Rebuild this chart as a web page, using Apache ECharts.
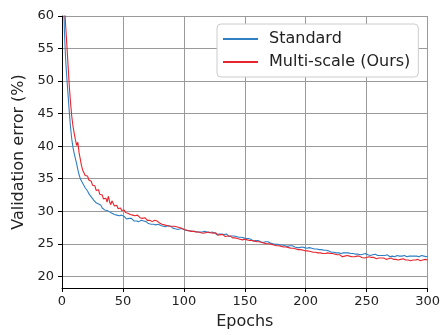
<!DOCTYPE html>
<html>
<head>
<meta charset="utf-8">
<script src="https://cdn.jsdelivr.net/npm/echarts@6/dist/echarts.min.js"></script>
<style>
  html, body { margin: 0; padding: 0; background: #fff; }
  #chart { width: 443px; height: 335px; }
</style>
</head>
<body>
<div id="chart"></div>
<script>
// validation error (%) per epoch, epochs 1..300
const standard = [
  66.0, 57.5, 53.2, 50.4, 47.8, 45.2, 42.9, 41.1, 39.8, 38.9,
  38.1, 37.3, 36.4, 35.6, 35.0, 34.7, 34.3, 34.0, 33.6, 33.3,
  33.1, 32.7, 32.6, 32.2, 32.1, 31.7, 31.8, 31.3, 31.2, 31.1,
  30.8, 30.9, 30.5, 30.6, 30.2, 30.0, 30.1, 29.8, 29.9, 30.0,
  29.7, 29.8, 29.5, 29.6, 29.4, 29.6, 29.3, 29.2, 29.4, 29.1,
  29.2, 29.0, 28.8, 29.0, 28.9, 28.6, 28.9, 28.7, 28.5, 28.8,
  28.5, 28.7, 28.4, 28.5, 28.6, 28.3, 28.5, 28.2, 28.4, 28.3,
  28.1, 28.3, 28.0, 28.2, 28.0, 28.1, 27.9, 28.1, 28.0, 27.9,
  27.8, 28.0, 27.7, 27.9, 27.6, 27.7, 27.8, 27.5, 27.7, 27.5,
  27.4, 27.5, 27.3, 27.4, 27.2, 27.4, 27.3, 27.1, 27.3, 27.2,
  27.1, 27.2, 27.0, 27.1, 27.0, 27.2, 26.9, 27.0, 26.9, 27.0,
  26.8, 26.9, 26.8, 27.0, 26.8, 26.7, 26.9, 26.7, 26.8, 26.6,
  26.7, 26.6, 26.8, 26.5, 26.7, 26.6, 26.4, 26.6, 26.5, 26.4,
  26.5, 26.3, 26.4, 26.2, 26.5, 26.3, 26.1, 26.3, 26.2, 26.0,
  26.2, 26.0, 26.1, 25.9, 26.0, 25.8, 26.0, 25.7, 25.9, 25.7,
  25.8, 25.6, 25.8, 25.5, 25.7, 25.6, 25.4, 25.6, 25.5, 25.3,
  25.5, 25.4, 25.3, 25.5, 25.2, 25.4, 25.3, 25.1, 25.3, 25.2,
  25.1, 25.2, 25.0, 25.1, 24.9, 25.1, 24.9, 25.0, 24.8, 24.9,
  24.8, 24.9, 24.7, 24.8, 24.6, 24.8, 24.7, 24.5, 24.7, 24.6,
  24.5, 24.6, 24.4, 24.6, 24.4, 24.3, 24.5, 24.3, 24.4, 24.2,
  24.3, 24.2, 24.4, 24.1, 24.3, 24.1, 24.2, 24.0, 24.2, 24.0,
  24.1, 23.9, 24.1, 23.9, 24.0, 23.8, 24.0, 23.8, 23.9, 23.8,
  23.7, 23.9, 23.7, 23.8, 23.6, 23.8, 23.6, 23.7, 23.5, 23.7,
  23.6, 23.5, 23.6, 23.4, 23.6, 23.4, 23.5, 23.3, 23.5, 23.4,
  23.4, 23.6, 23.4, 23.5, 23.3, 23.5, 23.4, 23.3, 23.5, 23.4,
  23.3, 23.4, 23.2, 23.4, 23.3, 23.2, 23.4, 23.3, 23.2, 23.4,
  23.2, 23.1, 23.2, 23.0, 23.2, 23.1, 23.3, 23.1, 23.0, 23.2,
  23.1, 23.2, 23.0, 23.1, 23.2, 23.0, 23.1, 23.3, 23.1, 23.0,
  23.2, 23.1, 23.0, 23.2, 23.1, 23.0, 23.1, 23.3, 23.1, 23.0,
  23.1, 23.2, 23.0, 23.1, 23.2, 23.0, 23.1, 23.1, 23.0, 23.1
];
const multiScale = [
  70.0, 62.0, 58.5, 55.5, 52.3, 49.2, 46.7, 44.6, 43.1, 42.0,
  41.0, 40.1, 40.6, 39.0, 38.0, 37.0, 36.3, 35.9, 35.5, 35.2,
  35.4, 34.8, 34.5, 34.6, 34.0, 33.7, 33.9, 33.2, 33.0, 33.3,
  32.6, 32.3, 32.5, 31.9, 31.7, 32.0, 31.4, 32.3, 31.5, 31.0,
  31.6, 31.3, 30.8, 30.6, 30.9, 30.4, 30.2, 30.5, 30.1, 30.0,
  30.2, 29.8, 29.9, 29.7, 29.9, 29.5, 29.6, 29.4, 29.6, 29.3,
  29.2, 29.4, 29.1, 29.0, 29.2, 28.9, 28.8, 29.0, 28.7, 28.6,
  28.8, 28.6, 28.7, 28.4, 28.5, 28.6, 28.3, 28.5, 28.3, 28.2,
  28.3, 28.0, 28.2, 27.9, 28.1, 27.8, 28.0, 27.7, 27.9, 27.7,
  27.5, 27.7, 27.4, 27.6, 27.3, 27.5, 27.2, 27.4, 27.3, 27.2,
  27.3, 27.1, 27.2, 27.0, 27.2, 26.9, 27.1, 26.9, 27.0, 26.8,
  27.0, 26.8, 26.9, 26.7, 26.9, 26.6, 26.8, 26.7, 26.5, 26.8,
  26.6, 26.7, 26.5, 26.6, 26.4, 26.7, 26.5, 26.3, 26.6, 26.4,
  26.2, 26.4, 26.3, 26.1, 26.4, 26.2, 26.0, 26.2, 26.1, 25.9,
  26.1, 25.9, 26.0, 25.8, 26.0, 25.7, 25.9, 25.6, 25.8, 25.7,
  25.9, 25.6, 25.7, 25.5, 25.8, 25.5, 25.6, 25.4, 25.6, 25.3,
  25.4, 25.3, 25.5, 25.2, 25.3, 25.1, 25.3, 25.0, 25.2, 25.0,
  25.1, 24.9, 25.0, 24.8, 25.0, 24.7, 24.9, 24.7, 24.8, 24.6,
  24.7, 24.5, 24.7, 24.5, 24.6, 24.4, 24.5, 24.3, 24.5, 24.3,
  24.4, 24.2, 24.3, 24.1, 24.3, 24.1, 24.2, 24.0, 24.1, 23.9,
  24.0, 23.9, 24.1, 23.8, 23.9, 23.7, 23.9, 23.7, 23.8, 23.6,
  23.7, 23.6, 23.8, 23.5, 23.6, 23.5, 23.4, 23.6, 23.4, 23.5,
  23.3, 23.5, 23.3, 23.4, 23.2, 23.3, 23.1, 23.3, 23.2, 23.0,
  23.2, 23.1, 23.0, 23.2, 22.9, 23.1, 22.9, 23.0, 22.8, 23.0,
  23.0, 23.1, 22.9, 23.1, 23.0, 22.9, 23.1, 22.8, 23.0, 22.9,
  22.8, 23.0, 22.8, 22.9, 22.7, 22.9, 22.8, 22.7, 22.9, 22.8,
  22.7, 22.8, 22.6, 22.8, 22.7, 22.6, 22.8, 22.7, 22.6, 22.8,
  22.7, 22.6, 22.8, 22.6, 22.7, 22.5, 22.7, 22.6, 22.5, 22.7,
  22.6, 22.5, 22.7, 22.5, 22.6, 22.4, 22.6, 22.5, 22.7, 22.5,
  22.4, 22.6, 22.5, 22.4, 22.6, 22.5, 22.4, 22.6, 22.5, 22.5
];
const seriesNames = ['Standard', 'Multi-scale (Ours)'];
const seriesColors = ['#2f7fc1', '#e8242c'];

const font = 'DejaVu Sans';
const toPoints = (arr) => arr.map((v, i) => [i + 1, v]);

const chart = echarts.init(document.getElementById('chart'), null, { renderer: 'canvas' });
chart.setOption({
  animation: false,
  backgroundColor: '#fff',
  textStyle: { fontFamily: font },
  grid: { left: 62, right: 12, top: 16, bottom: 44, containLabel: false },
  legend: {
    orient: 'vertical',
    left: 217,
    top: 24,
    padding: [7, 8, 7, 6],
    itemGap: 7,
    itemWidth: 35,
    itemHeight: 2,
    icon: 'rect',
    backgroundColor: '#fff',
    borderColor: '#cccccc',
    borderWidth: 1,
    borderRadius: 4,
    textStyle: { fontFamily: font, fontSize: 16, color: '#222', padding: [0, 0, 0, 6] },
    data: seriesNames
  },
  xAxis: {
    type: 'value',
    min: 0,
    max: 300,
    interval: 50,
    name: 'Epochs',
    nameLocation: 'middle',
    nameGap: 26,
    nameTextStyle: { fontFamily: font, fontSize: 16, color: '#222' },
    axisLine: { lineStyle: { color: '#000', width: 1 } },
    axisTick: { show: true, length: 4, lineStyle: { color: '#000' } },
    axisLabel: { fontFamily: font, fontSize: 13, color: '#222', margin: 7 },
    splitLine: { show: true, lineStyle: { color: '#9a9a9a', width: 1 } }
  },
  yAxis: {
    type: 'value',
    min: 18.2,
    max: 60,
    splitNumber: 8,
    name: 'Validation error (%)',
    nameLocation: 'middle',
    nameGap: 29,
    nameTextStyle: { fontFamily: font, fontSize: 16, color: '#222' },
    axisLine: { show: true, lineStyle: { color: '#000', width: 1 } },
    axisTick: { show: true, length: 4, lineStyle: { color: '#000' } },
    axisLabel: { fontFamily: font, fontSize: 13, color: '#222', margin: 8, showMinLabel: false },
    splitLine: { show: true, lineStyle: { color: '#9a9a9a', width: 1 } }
  },
  series: [
    {
      name: seriesNames[0],
      type: 'line',
      data: toPoints(standard),
      showSymbol: false,
      symbol: 'none',
      clip: true,
      lineStyle: { color: seriesColors[0], width: 1.1 },
      itemStyle: { color: seriesColors[0] }
    },
    {
      name: seriesNames[1],
      type: 'line',
      data: toPoints(multiScale),
      showSymbol: false,
      symbol: 'none',
      clip: true,
      lineStyle: { color: seriesColors[1], width: 1.1 },
      itemStyle: { color: seriesColors[1] }
    }
  ]
});
</script>
</body>
</html>
